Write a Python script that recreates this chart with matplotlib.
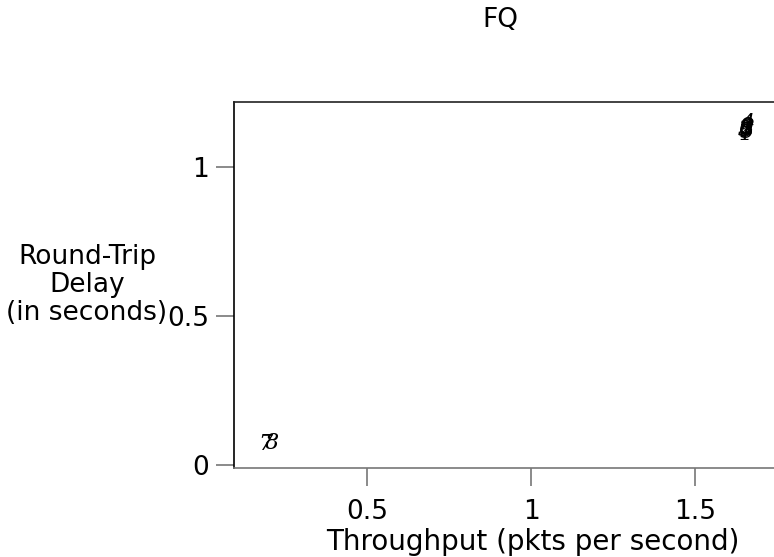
import matplotlib
matplotlib.use("Agg")
import matplotlib.pyplot as plt

# flow labels and their (throughput, delay) values
labels = ['1', '2', '3', '4', '5', '6', '9', '0', '7', '8']
throughput = [1.655, 1.658, 1.652, 1.660, 1.656, 1.654, 1.657, 1.653, 0.190, 0.210]
delay = [1.112, 1.130, 1.125, 1.145, 1.118, 1.128, 1.135, 1.122, 0.072, 0.075]

xticks = [0.5, 1, 1.5]
xtick_labels = ['0.5', '1', '1.5']
yticks = [0, 0.5, 1]
ytick_labels = ['0', '0.5', '1']

plt.rcParams['font.family'] = ['DejaVu Sans']

fig = plt.figure(figsize=(7.74, 5.57), dpi=100)
W, H = 774, 557
left, right, top, bottom = 234, 777, 102, 468
ax = fig.add_axes([left / W, 1 - bottom / H, (right - left) / W, (bottom - top) / H])

for lab, x, y in zip(labels, throughput, delay):
    ax.text(x, y, lab, ha='center', va='center', fontsize=16,
            family='DejaVu Serif', style='italic', color='black')

ax.set_xlim(0.094, 1.75)
ax.set_ylim(-0.01, 1.218)
ax.set_xticks(xticks)
ax.set_xticklabels(xtick_labels, fontsize=19)
ax.set_yticks(yticks)
ax.set_yticklabels(ytick_labels, fontsize=19)
ax.tick_params(axis='both', direction='out', length=13, width=1.2, color='#777777')
ax.tick_params(axis='y', pad=5)
ax.tick_params(axis='x', pad=9)

ax.spines['right'].set_visible(False)
ax.spines['left'].set_color('black')
ax.spines['top'].set_color('#222222')
ax.spines['bottom'].set_color('#777777')
for s in ax.spines.values():
    s.set_linewidth(1.2)

fig.text(500 / W, 1 - 20 / H, 'FQ', ha='center', va='center', fontsize=19)
fig.text(533 / W, 1 - 542 / H, 'Throughput (pkts per second)', ha='center', va='center', fontsize=20)
fig.text(87 / W, 1 - 285 / H, 'Round-Trip\nDelay\n(in seconds)', ha='center', va='center',
         fontsize=19, multialignment='center', linespacing=1.1)

fig.savefig('out.png', dpi=100)
